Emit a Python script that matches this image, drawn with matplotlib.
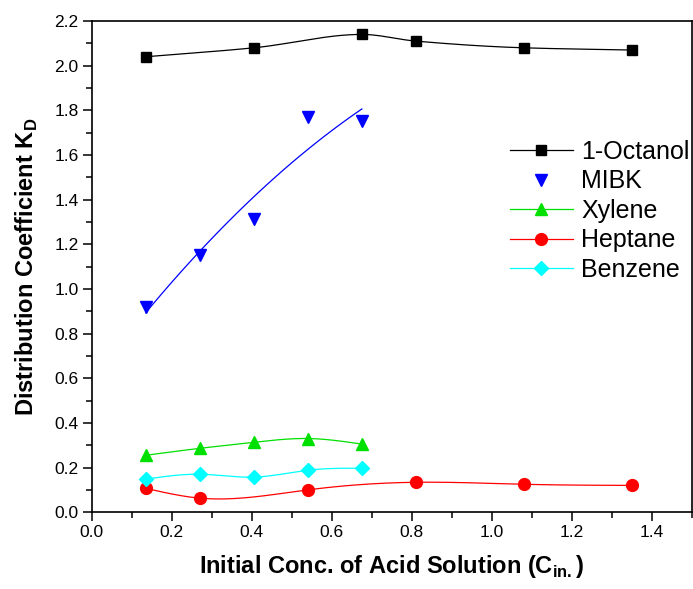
import numpy as np
import matplotlib
matplotlib.use("Agg")
import matplotlib.pyplot as plt
from matplotlib.ticker import MultipleLocator

plt.rcParams['font.family'] = ['Liberation Sans', 'DejaVu Sans']
plt.rcParams['mathtext.fontset'] = 'custom'
plt.rcParams['mathtext.rm'] = 'Liberation Sans'
plt.rcParams['mathtext.bf'] = 'Liberation Sans:bold'

# data
octanol_x = [0.135, 0.405, 0.675, 0.81, 1.08, 1.35]
octanol_y = [2.04, 2.08, 2.14, 2.11, 2.08, 2.07]

mibk_x = [0.135, 0.27, 0.405, 0.54, 0.675]
mibk_y = [0.917, 1.154, 1.315, 1.77, 1.75]

xylene_x = [0.135, 0.27, 0.405, 0.54, 0.675]
xylene_y = [0.255, 0.286, 0.313, 0.33, 0.305]

heptane_x = [0.135, 0.27, 0.54, 0.81, 1.08, 1.35]
heptane_y = [0.107, 0.063, 0.10, 0.134, 0.125, 0.12]

benzene_x = [0.135, 0.27, 0.405, 0.54, 0.675]
benzene_y = [0.148, 0.17, 0.157, 0.188, 0.197]


def spline(x, y, n=200):
    # natural cubic spline through the points
    x = np.asarray(x, float)
    y = np.asarray(y, float)
    k = len(x)
    h = np.diff(x)
    A = np.zeros((k, k))
    b = np.zeros(k)
    A[0, 0] = A[-1, -1] = 1
    for i in range(1, k - 1):
        A[i, i - 1] = h[i - 1]
        A[i, i] = 2 * (h[i - 1] + h[i])
        A[i, i + 1] = h[i]
        b[i] = 3 * ((y[i + 1] - y[i]) / h[i] - (y[i] - y[i - 1]) / h[i - 1])
    c = np.linalg.solve(A, b)
    xs = np.linspace(x[0], x[-1], n)
    idx = np.clip(np.searchsorted(x, xs) - 1, 0, k - 2)
    dx = xs - x[idx]
    bb = (y[idx + 1] - y[idx]) / h[idx] - h[idx] * (2 * c[idx] + c[idx + 1]) / 3
    dd = (c[idx + 1] - c[idx]) / (3 * h[idx])
    return xs, y[idx] + bb * dx + c[idx] * dx ** 2 + dd * dx ** 3


def pchip(x, y, n=200):
    # shape preserving cubic (no overshoot)
    x = np.asarray(x, float)
    y = np.asarray(y, float)
    h = np.diff(x)
    d = np.diff(y) / h
    m = np.zeros_like(y)
    m[0], m[-1] = d[0], d[-1]
    for i in range(1, len(x) - 1):
        if d[i - 1] * d[i] > 0:
            w1 = 2 * h[i] + h[i - 1]
            w2 = h[i] + 2 * h[i - 1]
            m[i] = (w1 + w2) / (w1 / d[i - 1] + w2 / d[i])
    xs = np.linspace(x[0], x[-1], n)
    idx = np.clip(np.searchsorted(x, xs) - 1, 0, len(x) - 2)
    t = (xs - x[idx]) / h[idx]
    h00 = 2 * t ** 3 - 3 * t ** 2 + 1
    h10 = t ** 3 - 2 * t ** 2 + t
    h01 = -2 * t ** 3 + 3 * t ** 2
    h11 = t ** 3 - t ** 2
    ys = h00 * y[idx] + h10 * h[idx] * m[idx] + h01 * y[idx + 1] + h11 * h[idx] * m[idx + 1]
    return xs, ys


fig = plt.figure(figsize=(6.93, 5.89), dpi=100)
ax = fig.add_axes([0.1323, 0.1304, 0.8664, 0.8339])

series = [
    ("1-Octanol", octanol_x, octanol_y, "black", "s", 7, pchip),
    ("Xylene", xylene_x, xylene_y, "#00e000", "^", 8.5, spline),
    ("Heptane", heptane_x, heptane_y, "red", "o", 8.5, spline),
    ("Benzene", benzene_x, benzene_y, "cyan", "D", 7, spline),
]
handles = {}
for name, x, y, col, mk, ms, fn in series:
    xs, ys = fn(x, y)
    ax.plot(xs, ys, color=col, lw=0.9)
    ax.plot(x, y, ls="none", marker=mk, color=col, ms=ms)
    handles[name], = ax.plot([], [], color=col, lw=0.9, marker=mk, ms=ms, label=name)

# MIBK: points with a quadratic fit
ax.plot(mibk_x, mibk_y, ls="none", marker="v", color="blue", ms=8.5)
p = np.polyfit(mibk_x, mibk_y, 2)
xf = np.linspace(mibk_x[0], mibk_x[-1], 100)
ax.plot(xf, np.polyval(p, xf), color="blue", lw=0.9)
handles["MIBK"], = ax.plot([], [], ls="none", marker="v", color="blue", ms=8.5, label="MIBK")

order = ["1-Octanol", "MIBK", "Xylene", "Heptane", "Benzene"]
ax.legend([handles[k] for k in order], order, loc="center left",
          bbox_to_anchor=(510 / 693, 1 - 211 / 589), bbox_transform=fig.transFigure,
          frameon=False, fontsize=18, handlelength=2.5, labelspacing=0.22,
          handletextpad=0.35, borderpad=0, borderaxespad=0)

ax.set_xlim(0, 1.5)
ax.set_ylim(0, 2.2)
ax.xaxis.set_major_locator(MultipleLocator(0.2))
ax.xaxis.set_minor_locator(MultipleLocator(0.1))
ax.yaxis.set_major_locator(MultipleLocator(0.2))
ax.yaxis.set_minor_locator(MultipleLocator(0.1))
ax.xaxis.set_major_formatter(plt.FormatStrFormatter("%.1f"))
ax.yaxis.set_major_formatter(plt.FormatStrFormatter("%.1f"))
ax.tick_params(which="both", direction="out", top=False, right=False, labelsize=12.5)
ax.tick_params(which="major", length=6.5, width=1.1, pad=3)
ax.tick_params(which="minor", length=4, width=1.1)
for s in ax.spines.values():
    s.set_linewidth(1.2)

ax.set_xlabel(r"Initial Conc. of Acid Solution (C$_{\mathbf{in.}}$)",
              fontsize=17, fontweight="bold", labelpad=9)
ax.set_ylabel(r"Distribution Coefficient K$_{\mathbf{D}}$",
              fontsize=17, fontweight="bold", labelpad=10)

fig.savefig("out.png", dpi=100)
